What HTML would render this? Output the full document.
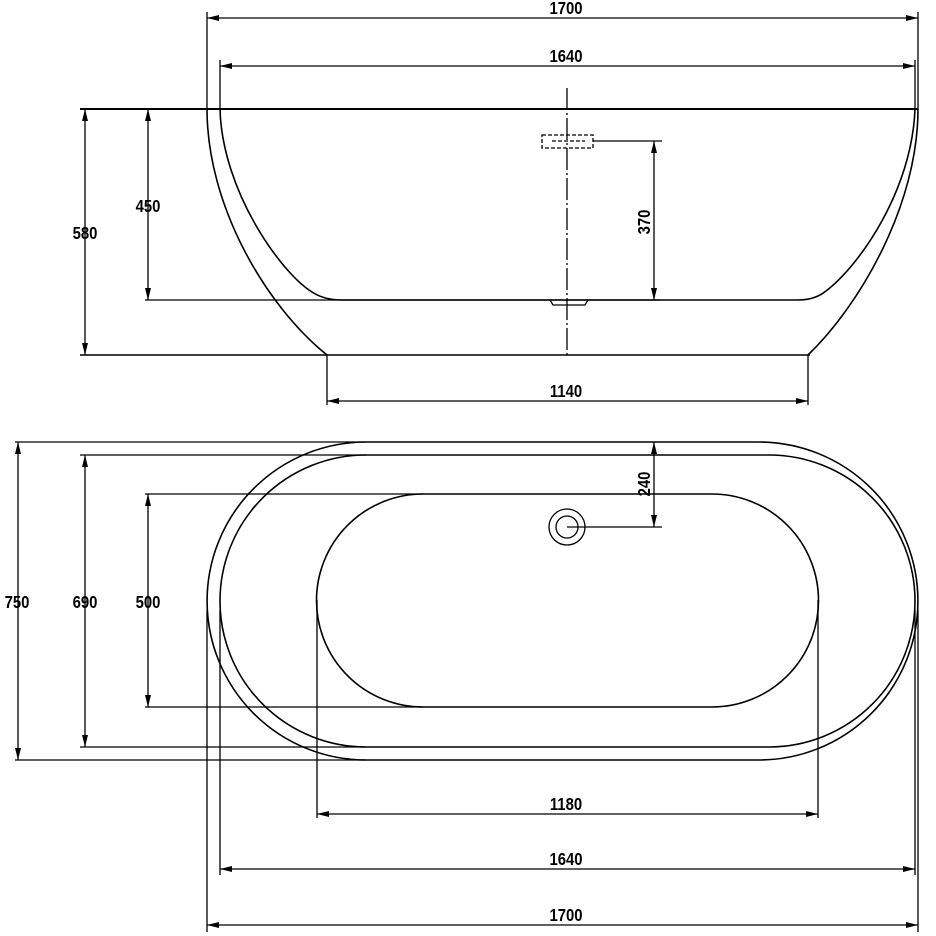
<!DOCTYPE html>
<html><head><meta charset="utf-8"><style>
html,body{margin:0;padding:0;background:#fff}
svg{display:block}
text{font-family:"Liberation Sans",sans-serif;font-weight:bold;font-size:17.5px;fill:#000}
</style></head><body>
<svg width="936" height="936" viewBox="0 0 936 936" xmlns="http://www.w3.org/2000/svg">
<defs>
<marker id="a" viewBox="0 0 12 6" refX="12" refY="3" markerWidth="12" markerHeight="6" orient="auto-start-reverse" markerUnits="userSpaceOnUse"><path d="M0,0 L12,3 L0,6 z" fill="#000"/></marker>
</defs>
<g stroke="#000" fill="none" stroke-width="1.3">
<line x1="80" y1="109" x2="918" y2="109" stroke-width="2"/>
<line x1="80" y1="355" x2="810" y2="355" stroke-width="1.5"/>
<line x1="145" y1="300" x2="660" y2="300"/>
<path d="M207,109 C207,205 265,305 327,355" stroke-width="1.6"/>
<path d="M918,109 C918,205 860,305 808,355" stroke-width="1.6"/>
<path d="M220,109 C222,190 280,272 312,292 Q324,300 342,300 L798,300 Q815,300 826,291 C860,265 912,190 915,109" stroke-width="1.6"/>
<line x1="567" y1="88" x2="567" y2="356" stroke-dasharray="22,3,2,3"/>
<rect x="542" y="135" width="51" height="13" stroke-dasharray="4,2"/>
<line x1="552" y1="141" x2="585" y2="141" stroke-dasharray="4,2"/>
<line x1="593" y1="141" x2="662" y2="141"/>
<path d="M550,300 L553,305 L585,305 L588,300"/>
<line x1="207" y1="12" x2="207" y2="109"/><line x1="918" y1="12" x2="918" y2="109"/>
<line x1="207" y1="18" x2="918" y2="18" marker-start="url(#a)" marker-end="url(#a)"/>
<line x1="220" y1="60" x2="220" y2="109"/><line x1="915" y1="60" x2="915" y2="109"/>
<line x1="220" y1="66" x2="915" y2="66" marker-start="url(#a)" marker-end="url(#a)"/>
<line x1="85" y1="109" x2="85" y2="355" marker-start="url(#a)" marker-end="url(#a)"/>
<line x1="148" y1="109" x2="148" y2="300" marker-start="url(#a)" marker-end="url(#a)"/>
<line x1="654" y1="141" x2="654" y2="300" marker-start="url(#a)" marker-end="url(#a)"/>
<line x1="327" y1="355" x2="327" y2="405"/><line x1="808" y1="355" x2="808" y2="405"/>
<line x1="327" y1="401" x2="808" y2="401" marker-start="url(#a)" marker-end="url(#a)"/>
<path d="M366,442 L759,442 A159,159 0 0 1 759,760 L366,760 A159,159 0 0 1 366,442 Z" stroke-width="1.6"/>
<path d="M366,455 L769,455 A146,146 0 0 1 769,747 L366,747 A146,146 0 0 1 366,455 Z" stroke-width="1.6"/>
<path d="M423,494 L712,494 A106,106 0 0 1 712,707 L423,707 A106,106 0 0 1 423,494 Z" stroke-width="1.6"/>
<line x1="15" y1="442" x2="366" y2="442"/><line x1="15" y1="760" x2="366" y2="760"/>
<line x1="80" y1="455" x2="366" y2="455"/><line x1="80" y1="747" x2="366" y2="747"/>
<line x1="145" y1="494" x2="423" y2="494"/><line x1="145" y1="707" x2="423" y2="707"/>
<line x1="18" y1="442" x2="18" y2="760" marker-start="url(#a)" marker-end="url(#a)"/>
<line x1="85" y1="455" x2="85" y2="747" marker-start="url(#a)" marker-end="url(#a)"/>
<line x1="148" y1="494" x2="148" y2="707" marker-start="url(#a)" marker-end="url(#a)"/>
<circle cx="567" cy="527" r="18"/><circle cx="567" cy="527" r="11"/>
<line x1="567" y1="527" x2="662" y2="527"/>
<line x1="654" y1="442" x2="654" y2="527" marker-start="url(#a)" marker-end="url(#a)"/>
<line x1="317" y1="600" x2="317" y2="818"/><line x1="818" y1="600" x2="818" y2="818"/>
<line x1="317" y1="814" x2="818" y2="814" marker-start="url(#a)" marker-end="url(#a)"/>
<line x1="220" y1="610" x2="220" y2="875"/><line x1="915" y1="610" x2="915" y2="875"/>
<line x1="220" y1="869" x2="915" y2="869" marker-start="url(#a)" marker-end="url(#a)"/>
<line x1="207" y1="610" x2="207" y2="932"/><line x1="918" y1="610" x2="918" y2="932"/>
<line x1="207" y1="925" x2="918" y2="925" marker-start="url(#a)" marker-end="url(#a)"/>
</g>
<g>
<text x="566" y="14" text-anchor="middle" transform="translate(566,0) scale(0.85,1) translate(-566,0)">1700</text>
<text x="566" y="62" text-anchor="middle" transform="translate(566,0) scale(0.85,1) translate(-566,0)">1640</text>
<text x="566" y="397" text-anchor="middle" transform="translate(566,0) scale(0.85,1) translate(-566,0)">1140</text>
<text x="85" y="239" text-anchor="middle" transform="translate(85,0) scale(0.85,1) translate(-85,0)">580</text>
<text x="148" y="212" text-anchor="middle" transform="translate(148,0) scale(0.85,1) translate(-148,0)">450</text>
<text transform="translate(650,222) rotate(-90) scale(0.85,1)" text-anchor="middle">370</text>
<text transform="translate(650,484) rotate(-90) scale(0.85,1)" text-anchor="middle">240</text>
<text x="17" y="608" text-anchor="middle" transform="translate(17,0) scale(0.85,1) translate(-17,0)">750</text>
<text x="85" y="608" text-anchor="middle" transform="translate(85,0) scale(0.85,1) translate(-85,0)">690</text>
<text x="148" y="608" text-anchor="middle" transform="translate(148,0) scale(0.85,1) translate(-148,0)">500</text>
<text x="566" y="810" text-anchor="middle" transform="translate(566,0) scale(0.85,1) translate(-566,0)">1180</text>
<text x="566" y="865" text-anchor="middle" transform="translate(566,0) scale(0.85,1) translate(-566,0)">1640</text>
<text x="566" y="921" text-anchor="middle" transform="translate(566,0) scale(0.85,1) translate(-566,0)">1700</text>
</g>
</svg>
</body></html>
